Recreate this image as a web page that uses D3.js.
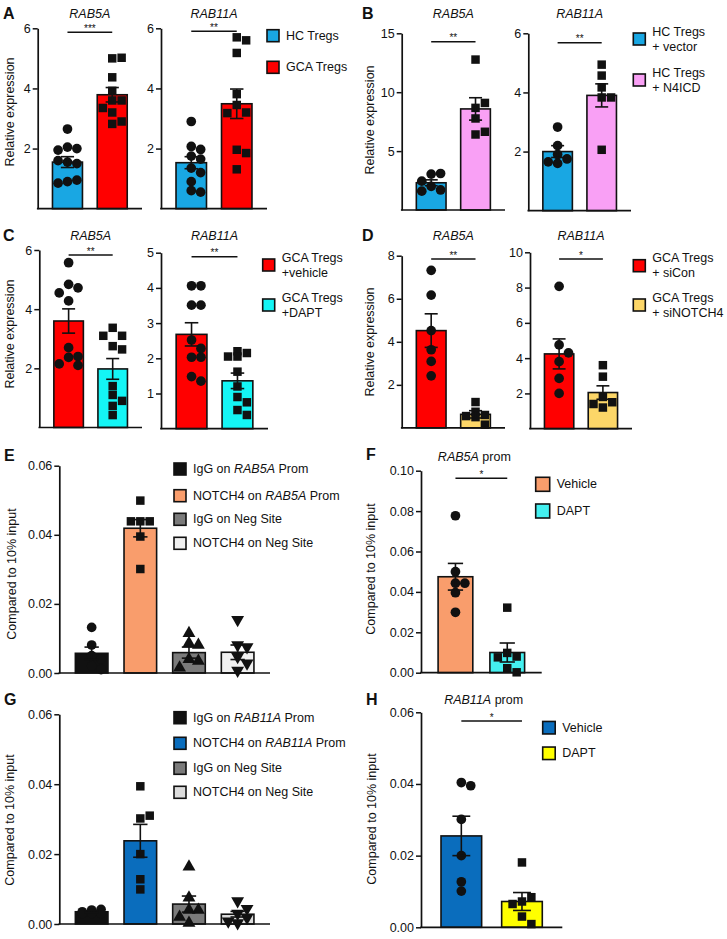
<!DOCTYPE html>
<html><head><meta charset="utf-8">
<script src="https://cdn.jsdelivr.net/npm/d3@7"></script>
<style>body{margin:0;background:#fff}svg text{font-family:"Liberation Sans",Arial,sans-serif;fill:#111}</style>
</head><body><svg id="c" width="727" height="939"></svg>
<script>
// ---------------- DATA ----------------
const groupsA = ["HC Tregs", "GCA Tregs"];
const a5Means = [1.55, 3.79], a5Sems = [0.18, 0.24];
const a5Pts = [[2.65, 2.05, 2.0, 1.95, 1.55, 1.5, 1.6, 0.9, 0.95, 0.85], [5.0, 5.02, 4.37, 3.92, 3.6, 3.6, 3.35, 3.2, 2.82, 2.9]];
const a11Means = [1.53, 3.49], a11Sems = [0.2, 0.49];
const a11Pts = [[2.9, 2.07, 1.97, 1.75, 1.65, 1.35, 1.2, 0.9, 0.6, 0.55], [5.7, 5.6, 5.18, 3.81, 3.45, 3.2, 3.18, 1.96, 1.85, 1.31]];
const sigA = ["***", "**"];

const groupsB = ["HC Tregs + vector", "HC Tregs + N4ICD"];
const b5Means = [2.31, 8.58], b5Sems = [0.25, 0.95];
const b5Pts = [[3.05, 3.1, 2.45, 2.0, 1.7, 1.6], [12.77, 8.67, 9.09, 7.77, 6.41, 6.64]];
const b11Means = [2.0, 3.9], b11Sems = [0.2, 0.39];
const b11Pts = [[2.83, 2.2, 1.9, 1.75, 1.65, 1.6], [4.94, 4.57, 4.17, 3.83, 3.83, 2.06]];
const sigB = ["**", "**"];

const groupsC = ["GCA Tregs +vehicle", "GCA Tregs +DAPT"];
const c5Means = [3.6, 1.98], c5Sems = [0.41, 0.35];
const c5Pts = [[5.57, 4.84, 4.72, 4.55, 4.28, 2.7, 2.37, 2.4, 2.1, 2.15], [3.37, 3.1, 3.1, 2.75, 2.64, 1.4, 1.1, 0.9, 0.73, 0.42]];
const c11Means = [2.68, 1.36], c11Sems = [0.33, 0.22];
const c11Pts = [[4.06, 4.06, 3.51, 3.51, 2.52, 2.03, 2.03, 2.28, 1.48, 1.35], [2.2, 2.15, 2.05, 2.05, 1.62, 1.2, 0.9, 0.75, 0.53, 0.39]];
const sigC = ["**", "**"];

const groupsD = ["GCA Tregs + siCon", "GCA Tregs + siNOTCH4"];
const d5Means = [4.52, 0.63], d5Sems = [0.78, 0.17];
const d5Pts = [[7.32, 6.17, 4.52, 3.63, 3.09, 2.42], [1.2, 0.75, 0.6, 0.55, 0.5, 0.15]];
const d11Means = [4.24, 2.05], d11Sems = [0.85, 0.38];
const d11Pts = [[8.07, 4.75, 4.3, 3.8, 2.85, 2.0], [3.6, 2.95, 1.8, 1.5, 1.4, 1.2]];
const sigD = ["**", "*"];

const groupsE = ["IgG on RAB5A Prom", "NOTCH4 on RAB5A Prom", "IgG on Neg Site", "NOTCH4 on Neg Site"];
const eMeans = [0.0057, 0.0419, 0.0059, 0.006], eSems = [0.0018, 0.0025, 0.0016, 0.0021];
const ePts = [[0.0132, 0.0081, 0.005, 0.004, 0.002, 0.001], [0.0499, 0.0439, 0.0439, 0.0439, 0.0395, 0.0301], [0.0115, 0.0086, 0.0081, 0.004, 0.0035, 0.0015], [0.0154, 0.0081, 0.0075, 0.0047, 0.0028, 0.0007]];

const groupsF = ["Vehicle", "DAPT"];
const fMeans = [0.0475, 0.01], fSems = [0.0066, 0.0047];
const fPts = [[0.0777, 0.05, 0.0443, 0.0443, 0.0396, 0.0299], [0.0322, 0.0098, 0.008, 0.0076, 0.0022, 0.0002]];
const sigF = ["*"];

const groupsG = ["IgG on RAB11A Prom", "NOTCH4 on RAB11A Prom", "IgG on Neg Site", "NOTCH4 on Neg Site"];
const gMeans = [0.0035, 0.0238, 0.0057, 0.0028], gSems = [0.0003, 0.0047, 0.0023, 0.0008];
const gPts = [[0.004, 0.0042, 0.0035, 0.003, 0.003, 0.003], [0.0394, 0.0302, 0.031, 0.02, 0.0128, 0.0099], [0.0164, 0.0075, 0.004, 0.004, 0.002, 0.0003], [0.0066, 0.0044, 0.003, 0.0018, 0.0008, 0.0003]];

const groupsH = ["Vehicle", "DAPT"];
const hMeans = [0.0255, 0.0072], hSems = [0.0055, 0.0025];
const hPts = [[0.0404, 0.0395, 0.0301, 0.02, 0.0127, 0.0101], [0.0181, 0.0072, 0.0084, 0.0065, 0.003, 0.0009]];
const sigH = ["*"];

const ticks6 = [2, 4, 6], ticks15 = [5, 10, 15], ticks5 = [1, 2, 3, 4, 5], ticks8 = [2, 4, 6, 8], ticks10 = [2, 4, 6, 8, 10];
const ticks06 = [0, 0.02, 0.04, 0.06], ticks10p = [0, 0.02, 0.04, 0.06, 0.08, 0.10];

// ---------------- STYLE ----------------
const BLUE = "#19A7E3", RED = "#FF0000", PINK = "#F9A0F5", CYAN = "#14F5F5", GOLD = "#FCD668",
      ORANGE = "#F99D6C", CYAN2 = "#44F0F0", DBLUE = "#0A6DBD", YELLOW = "#FFFF00",
      BLACK = "#111111", GRAY = "#7B7B7B", LGRAY1 = "#F0F0F0", LGRAY2 = "#DCDCDC";
const INK = "#111";

const svg = d3.select("#c");
const invTri = { draw(ctx, size) { const s = Math.sqrt(size / (Math.sqrt(3) / 4)); const h = s * Math.sqrt(3) / 2;
  ctx.moveTo(0, h * 2 / 3); ctx.lineTo(s / 2, -h / 3); ctx.lineTo(-s / 2, -h / 3); ctx.closePath(); } };
const SHAPES = { circle: d3.symbolCircle, square: d3.symbolSquare, tri: d3.symbolTriangle, inv: invTri };

function panel(cfg) {
  const g = svg.append("g");
  const y = d3.scaleLinear().domain([0, cfg.max]).range([cfg.base, cfg.top]);
  const x = d3.scaleBand().domain(cfg.groups).range([cfg.ax, cfg.axEnd]).paddingInner(0.33).paddingOuter(0.33);
  const bw = x.bandwidth();
  // bars
  g.selectAll("rect.bar").data(cfg.groups).join("rect")
    .attr("x", d => x(d)).attr("width", bw)
    .attr("y", (d, i) => y(cfg.means[i])).attr("height", (d, i) => y(0) - y(cfg.means[i]))
    .attr("fill", (d, i) => cfg.colors[i]).attr("stroke", INK).attr("stroke-width", 1.6);
  // points (deterministic swarm, kept within the bar)
  const md = 9.4;
  cfg.groups.forEach((grp, i) => {
    const cx = x(grp) + bw / 2;
    const maxOff = bw / 2 - 2;
    const placed = [];
    cfg.pts[i].forEach(v => {
      const py = y(v);
      const cands = [0, 1, -1, 2, -2, 0.5, -0.5, 1.5, -1.5].map(k => k * md).filter(o => Math.abs(o) <= maxOff);
      let best = null, bestC = 1e9;
      for (const o of cands) {
        const px = cx + o;
        const c = placed.filter(p => Math.hypot(p[0] - px, p[1] - py) < md * 0.92).length;
        if (c < bestC) { bestC = c; best = px; }
        if (c === 0) break;
      }
      placed.push([best, py]);
    });
    g.selectAll(null).data(placed).join("path")
      .attr("transform", p => `translate(${p[0]},${p[1]})`)
      .attr("d", d3.symbol().type(SHAPES[cfg.shapes[i]]).size(cfg.shapes[i] === "circle" ? 74 : 72))
      .attr("fill", INK);
  });
  // error bars
  cfg.groups.forEach((grp, i) => {
    const cx = x(grp) + bw / 2, m = cfg.means[i], s = cfg.sems[i], cw = bw * 0.22;
    const eg = g.append("g").attr("stroke", INK).attr("stroke-width", 1.6);
    eg.append("line").attr("x1", cx).attr("x2", cx).attr("y1", y(m - s)).attr("y2", y(m + s));
    eg.append("line").attr("x1", cx - cw).attr("x2", cx + cw).attr("y1", y(m + s)).attr("y2", y(m + s));
    eg.append("line").attr("x1", cx - cw).attr("x2", cx + cw).attr("y1", y(m - s)).attr("y2", y(m - s));
  });
  // axes
  const axis = d3.axisLeft(y).tickValues(cfg.ticks).tickSize(5).tickSizeOuter(0).tickPadding(2)
    .tickFormat(cfg.fmt ? d3.format(cfg.fmt) : d3.format("d"));
  const ag = g.append("g").attr("transform", `translate(${cfg.ax},0)`).call(axis);
  ag.select(".domain").attr("stroke", INK).attr("stroke-width", 1.7);
  ag.selectAll(".tick line").attr("stroke", INK).attr("stroke-width", 1.5);
  ag.selectAll(".tick text").attr("font-size", 12.5).attr("fill", INK)
    .attr("font-family", '"Liberation Sans", Arial, sans-serif');
  g.append("line").attr("x1", cfg.ax - 0.8).attr("x2", cfg.axEnd).attr("y1", y(0)).attr("y2", y(0))
    .attr("stroke", INK).attr("stroke-width", 1.7);
  // title
  if (cfg.title) {
    const t = g.append("text").attr("x", (cfg.ax + cfg.axEnd) / 2 + (cfg.titleDx || 0)).attr("y", cfg.titleY)
      .attr("text-anchor", "middle").attr("font-size", 12.5);
    t.append("tspan").attr("font-style", "italic").text(cfg.title);
    if (cfg.titleSuffix) t.append("tspan").text(cfg.titleSuffix);
  }
  // significance
  if (cfg.sig) {
    const ly = cfg.top + cfg.sigDy;
    const x1 = x(cfg.groups[0]) + bw / 2, x2 = x(cfg.groups[1]) + bw / 2;
    g.append("line").attr("x1", x1).attr("x2", x2).attr("y1", ly).attr("y2", ly).attr("stroke", INK).attr("stroke-width", 1.4);
    g.append("text").attr("x", (x1 + x2) / 2).attr("y", ly - 0.5).attr("text-anchor", "middle").attr("font-size", 10).text(cfg.sig);
  }
  // y label
  if (cfg.ylab) {
    g.append("text").attr("transform", `translate(${cfg.ylabX},${cfg.ylabY}) rotate(-90)`)
      .attr("text-anchor", "middle").attr("dominant-baseline", "central").attr("font-size", 12.5).text(cfg.ylab);
  }
}

function legend(x0, ys, sq, items, twoLine) {
  const g = svg.append("g");
  items.forEach((it, i) => {
    g.append("rect").attr("x", x0).attr("y", ys[i] - sq / 2).attr("width", sq).attr("height", sq)
      .attr("fill", it.color).attr("stroke", INK).attr("stroke-width", 1.6);
    it.lines.forEach((ln, j) => {
      const ty = twoLine ? ys[i] + (j === 0 ? -7.5 : 7.5) : ys[i];
      const t = g.append("text").attr("x", x0 + sq + 7).attr("y", ty).attr("dominant-baseline", "central").attr("font-size", 12.5);
      ln.forEach(seg => t.append("tspan").attr("font-style", seg.it ? "italic" : "normal").text(seg.t));
    });
  });
}
function letter(l, x, yy) {
  svg.append("text").attr("x", x).attr("y", yy).attr("font-size", 16).attr("font-weight", "bold").text(l);
}
const REL = "Relative expression", CMP = "Compared to 10% input";

// ---------------- A ----------------
letter("A", 3, 19);
panel({ groups: groupsA, means: a5Means, sems: a5Sems, pts: a5Pts, colors: [BLUE, RED], shapes: ["circle", "square"],
  max: 6, base: 208.7, top: 28.3, ax: 37.7, axEnd: 142, ticks: ticks6, title: "RAB5A", titleY: 17.7, sig: sigA[0], sigDy: 4,
  ylab: REL, ylabX: 10, ylabY: 112 });
panel({ groups: groupsA, means: a11Means, sems: a11Sems, pts: a11Pts, colors: [BLUE, RED], shapes: ["circle", "square"],
  max: 6, base: 208.7, top: 28.3, ax: 161, axEnd: 267, ticks: ticks6, title: "RAB11A", titleY: 17.7, sig: sigA[1], sigDy: 3 });
legend(267, [35.7, 67.3], 12, [{ color: BLUE, lines: [[{ t: "HC Tregs" }]] }, { color: RED, lines: [[{ t: "GCA Tregs" }]] }], false);

// ---------------- B ----------------
letter("B", 362, 19);
panel({ groups: groupsB, means: b5Means, sems: b5Sems, pts: b5Pts, colors: [BLUE, PINK], shapes: ["circle", "square"],
  max: 15, base: 210, top: 33.3, ax: 401.7, axEnd: 505, ticks: ticks15, title: "RAB5A", titleY: 17.7, sig: sigB[0], sigDy: 8.4,
  ylab: REL, ylabX: 370, ylabY: 120 });
panel({ groups: groupsB, means: b11Means, sems: b11Sems, pts: b11Pts, colors: [BLUE, PINK], shapes: ["circle", "square"],
  max: 6, base: 210.7, top: 33.3, ax: 528.3, axEnd: 631, ticks: ticks6, title: "RAB11A", titleY: 17.7, sig: sigB[1], sigDy: 9.4 });
legend(633.3, [39, 80], 12, [
  { color: BLUE, lines: [[{ t: "HC Tregs" }], [{ t: "+ vector" }]] },
  { color: PINK, lines: [[{ t: "HC Tregs" }], [{ t: "+ N4ICD" }]] }], true);

// ---------------- C ----------------
letter("C", 3, 241);
panel({ groups: groupsC, means: c5Means, sems: c5Sems, pts: c5Pts, colors: [RED, CYAN], shapes: ["circle", "square"],
  max: 6, base: 427.5, top: 250, ax: 39.3, axEnd: 142, ticks: ticks6, title: "RAB5A", titleY: 239.5, sig: sigC[0], sigDy: 5,
  ylab: REL, ylabX: 10, ylabY: 334 });
panel({ groups: groupsC, means: c11Means, sems: c11Sems, pts: c11Pts, colors: [RED, CYAN], shapes: ["circle", "square"],
  max: 5, base: 428.7, top: 252.7, ax: 161, axEnd: 268, ticks: ticks5, title: "RAB11A", titleY: 239.5, sig: sigC[1], sigDy: 4 });
legend(262.7, [265, 305], 12, [
  { color: RED, lines: [[{ t: "GCA Tregs" }], [{ t: "+vehicle" }]] },
  { color: CYAN, lines: [[{ t: "GCA Tregs" }], [{ t: "+DAPT" }]] }], true);

// ---------------- D ----------------
letter("D", 362, 241);
panel({ groups: groupsD, means: d5Means, sems: d5Sems, pts: d5Pts, colors: [RED, GOLD], shapes: ["circle", "square"],
  max: 8, base: 427.9, top: 255.7, ax: 401.7, axEnd: 505, ticks: ticks8, title: "RAB5A", titleY: 239.5, sig: sigD[0], sigDy: 3.3,
  ylab: REL, ylabX: 370, ylabY: 342 });
panel({ groups: groupsD, means: d11Means, sems: d11Sems, pts: d11Pts, colors: [RED, GOLD], shapes: ["circle", "square"],
  max: 10, base: 428.7, top: 252.3, ax: 530, axEnd: 632, ticks: ticks10, title: "RAB11A", titleY: 239.5, sig: sigD[1], sigDy: 6.7 });
legend(633.3, [265.7, 305], 12, [
  { color: RED, lines: [[{ t: "GCA Tregs" }], [{ t: "+ siCon" }]] },
  { color: GOLD, lines: [[{ t: "GCA Tregs" }], [{ t: "+ siNOTCH4" }]] }], true);

// ---------------- E ----------------
letter("E", 4, 461);
panel({ groups: groupsE, means: eMeans, sems: eSems, pts: ePts, colors: [BLACK, ORANGE, GRAY, LGRAY1], shapes: ["circle", "square", "tri", "inv"],
  max: 0.06, base: 673, top: 465.7, ax: 59.3, axEnd: 270, ticks: ticks06, fmt: ".2f",
  ylab: CMP, ylabX: 11.7, ylabY: 574 });
legend(174, [469, 495.7, 519.3, 543.3], 12, [
  { color: BLACK, lines: [[{ t: "IgG on " }, { t: "RAB5A", it: true }, { t: " Prom" }]] },
  { color: ORANGE, lines: [[{ t: "NOTCH4 on " }, { t: "RAB5A", it: true }, { t: " Prom" }]] },
  { color: GRAY, lines: [[{ t: "IgG on Neg Site" }]] },
  { color: LGRAY1, lines: [[{ t: "NOTCH4 on Neg Site" }]] }], false);

// ---------------- F ----------------
letter("F", 366, 460);
panel({ groups: groupsF, means: fMeans, sems: fSems, pts: fPts, colors: [ORANGE, CYAN2], shapes: ["circle", "square"],
  max: 0.10, base: 672.7, top: 470.7, ax: 421, axEnd: 541.7, ticks: ticks10p, fmt: ".2f",
  title: "RAB5A", titleSuffix: " prom", titleY: 461, titleDx: -7, sig: sigF[0], sigDy: 7.6,
  ylab: CMP, ylabX: 371, ylabY: 569 });
legend(535.7, [484.3, 511], 14, [{ color: ORANGE, lines: [[{ t: "Vehicle" }]] }, { color: CYAN2, lines: [[{ t: "DAPT" }]] }], false);

// ---------------- G ----------------
letter("G", 4, 705);
panel({ groups: groupsG, means: gMeans, sems: gSems, pts: gPts, colors: [BLACK, DBLUE, GRAY, LGRAY2], shapes: ["circle", "square", "tri", "inv"],
  max: 0.06, base: 924, top: 714.3, ax: 59.3, axEnd: 270, ticks: ticks06, fmt: ".2f",
  ylab: CMP, ylabX: 10, ylabY: 820 });
legend(174, [717.7, 743.3, 768.3, 792.3], 12, [
  { color: BLACK, lines: [[{ t: "IgG on " }, { t: "RAB11A", it: true }, { t: " Prom" }]] },
  { color: DBLUE, lines: [[{ t: "NOTCH4 on " }, { t: "RAB11A", it: true }, { t: " Prom" }]] },
  { color: GRAY, lines: [[{ t: "IgG on Neg Site" }]] },
  { color: LGRAY2, lines: [[{ t: "NOTCH4 on Neg Site" }]] }], false);

// ---------------- H ----------------
letter("H", 366, 705);
panel({ groups: groupsH, means: hMeans, sems: hSems, pts: hPts, colors: [DBLUE, YELLOW], shapes: ["circle", "square"],
  max: 0.06, base: 927.3, top: 712.3, ax: 421, axEnd: 562.3, ticks: ticks06, fmt: ".2f",
  title: "RAB11A", titleSuffix: " prom", titleY: 703.5, titleDx: -8, sig: sigH[0], sigDy: 8.7,
  ylab: CMP, ylabX: 371.7, ylabY: 819 });
legend(542.7, [727.7, 753.3], 12.5, [{ color: DBLUE, lines: [[{ t: "Vehicle" }]] }, { color: YELLOW, lines: [[{ t: "DAPT" }]] }], false);
</script></body></html>
